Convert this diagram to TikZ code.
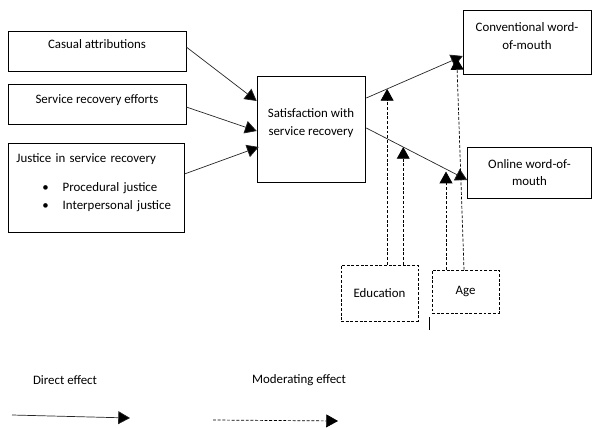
\documentclass[tikz,border=0pt]{standalone}
\usepackage{fontspec}
\setmainfont{Carlito}
\usetikzlibrary{arrows.meta,calc}
\tikzset{
    box/.style={draw=black, line width=0.5pt, inner sep=3pt, align=center, font=\fontsize{11}{15}\selectfont},
    modbox/.style={box, dash pattern=on 2.5pt off 1.5pt},
    tip/.style={-{Triangle[length=10pt,width=11pt,fill=black]}},
    direct/.style={draw=black!85, line width=0.6pt, tip},
    moder/.style={draw=black, line width=0.6pt, dash pattern=on 2.5pt off 1.5pt, tip},
    lab/.style={font=\fontsize{11}{15}\selectfont}
}
\begin{document}
\begin{tikzpicture}[x=0.03cm, y=-0.03cm]
                    \useasboundingbox (0, 0) rectangle (592, 428);
                    % antecedents
                    \node[box, minimum width=5.34cm, minimum height=1.2cm] (ca) at (97, 51) {Casual attributions\\[-3pt]~};
                    \node[box, minimum width=5.34cm, minimum height=1.2cm] (sre) at (97, 104) {Service recovery efforts\\[-7pt]~};
                    \node[box, align=left, anchor=north west, inner xsep=7pt, text width=4.8cm, minimum height=2.67cm] (jsr) at (8, 143)
                        {Justice in service recovery\\[10pt]
                         \hspace*{22pt}\textbullet\hspace{12pt}Procedural justice\\
                         \hspace*{22pt}\textbullet\hspace{12pt}Interpersonal justice\\[-4pt]~};
                    % mediator and outcomes
                    \node[box, minimum width=3.24cm, minimum height=3.18cm] (sat) at (311, 129) {Satisfaction with\\service recovery\\[-3pt]~};
                    \node[box, minimum width=3.84cm, minimum height=1.92cm] (cwom) at (527, 42) {Conventional word-\\[1pt]of-mouth\\[-5pt]~};
                    \node[box, minimum width=3.72cm, minimum height=1.53cm] (owom) at (529.5, 172.5) {Online word-of-\\mouth};
                    % moderators
                    \node[modbox, minimum width=2.31cm, minimum height=1.68cm] (edu) at (379.5, 293) {Education};
                    \node[modbox, minimum width=2.01cm, minimum height=1.29cm] (age) at (465.5, 291.5) {Age};
                    \draw[line width=0.5pt] (429, 317) -- (429, 330);

                    % direct effects
                    \draw[direct] ($(ca.east)+(0, -4)$) -- ($(sat.west)+(0, -28)$);
                    \draw[direct] ($(sre.east)+(0, 3)$) -- ($(sat.west)+(0, 2)$);
                    \draw[direct] ($(jsr.east)+(0, -14)$) -- ($(sat.west)+(2, 18)$);
                    \coordinate (s1) at ($(sat.east)+(1, -31)$);
                    \coordinate (c1) at ($(cwom.west)+(0, 14)$);
                    \coordinate (s2) at ($(sat.east)+(1, -1)$);
                    \coordinate (o2) at ($(owom.west)+(0, 7.5)$);
                    \draw[direct] (s1) -- (c1);
                    \draw[direct] (s2) -- (o2);
                    \path (s1) -- (c1) coordinate[pos=0.216] (m1);
                    \path (s2) -- (o2) coordinate[pos=0.366] (m2);
                    \path (s2) -- (o2) coordinate[pos=0.78] (m3);

                    % moderating effects
                    \draw[moder] (m1 |- edu.north) -- (m1);
                    \draw[moder] (m2 |- edu.north) -- (m2);
                    \draw[moder] ($(m3 |- age.north)+(1, 0)$) -- ($(m3)+(1, 3)$);
                    \draw[moder] ($(age.north)+(-1.5, 0)$) -- ($(c1)+(-6, 2)$);

                    % legend
                    \node[lab] (dirlab) at (65, 380) {Direct effect};
                    \node[lab] (modlab) at (299, 380) {Moderating effect};
                    \coordinate (d1) at (12, 415);
                    \coordinate (d2) at (130, 418);
                    \coordinate (e1) at (213, 420);
                    \coordinate (e2) at (338, 421);
                    \draw[direct] (d1) -- (d2);
                    \draw[moder] (e1) -- (e2);
                \end{tikzpicture}
\end{document}
